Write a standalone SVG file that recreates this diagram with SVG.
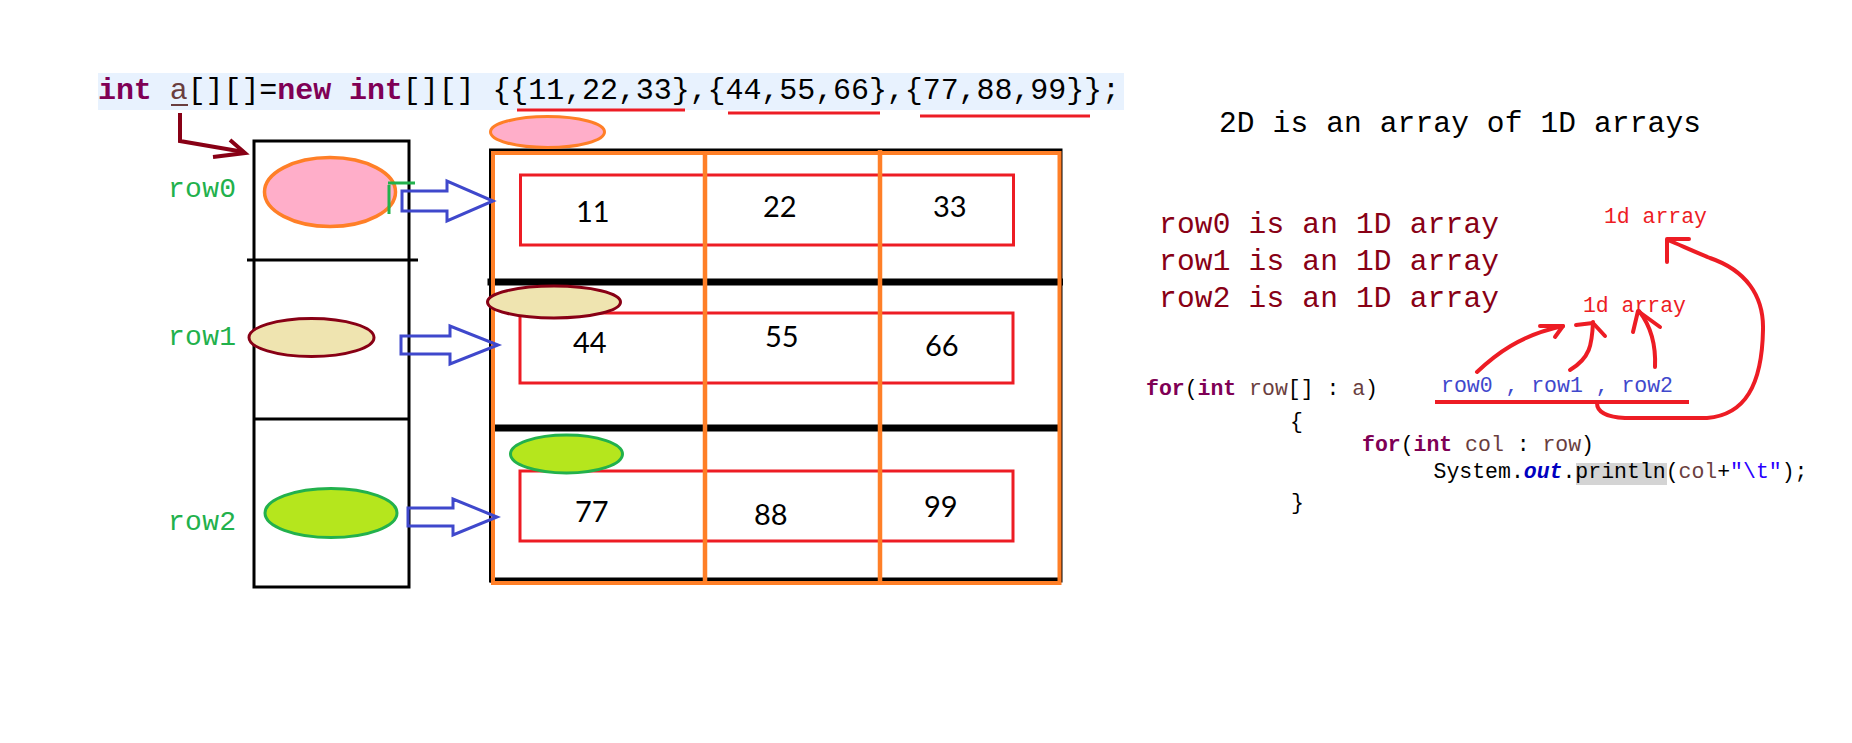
<svg xmlns="http://www.w3.org/2000/svg" width="1852" height="743" viewBox="0 0 1852 743">
<style>
.mono{font-family:"Liberation Mono","DejaVu Sans Mono",monospace;}
.kw{fill:#7F0055;font-weight:bold;}
.var{fill:#6A3E3E;}
.num{font-family:Lato,"Liberation Sans",sans-serif;font-size:29px;fill:#000;}
.rowlbl{fill:#22B14C;font-size:28px;}
.blk{fill:none;stroke:#000;stroke-width:3;}
.redrect{fill:none;stroke:#ED1C24;stroke-width:3;}
.barrow{fill:none;stroke:#3F48CC;stroke-width:3;stroke-linejoin:miter;}
.pen{fill:none;stroke:#ED1C24;stroke-width:4;stroke-linecap:round;stroke-linejoin:round;}
.orange{stroke:#FF7F27;}
</style>
<rect width="1852" height="743" fill="#fff"/>

<g id="code-declaration">
<rect x="98" y="73" width="1026" height="37" fill="#E8F2FE"/>
<text class="mono" x="98" y="99" font-size="30" textLength="1022" lengthAdjust="spacing" fill="#000"><tspan class="kw">int</tspan> <tspan class="var">a</tspan>[][]=<tspan class="kw">new</tspan> <tspan class="kw">int</tspan>[][] {{11,22,33},{44,55,66},{77,88,99}};</text>
<line x1="171" y1="105" x2="188" y2="105" stroke="#6A3E3E" stroke-width="2"/>
<line x1="517" y1="110" x2="685" y2="110" stroke="#ED1C24" stroke-width="3"/>
<line x1="728" y1="113" x2="880" y2="113" stroke="#ED1C24" stroke-width="3"/>
<line x1="920" y1="116" x2="1090" y2="116" stroke="#ED1C24" stroke-width="3"/>
</g>

<g id="row-reference-array">
<rect class="blk" x="254" y="141" width="155" height="446"/>
<line x1="247" y1="260" x2="418" y2="260" stroke="#000" stroke-width="3"/>
<line x1="254" y1="419" x2="409" y2="419" stroke="#000" stroke-width="3"/>
<text class="mono rowlbl" x="168" y="197" textLength="68" lengthAdjust="spacing">row0</text>
<text class="mono rowlbl" x="168" y="345" textLength="68" lengthAdjust="spacing">row1</text>
<text class="mono rowlbl" x="168" y="530" textLength="68" lengthAdjust="spacing">row2</text>
<ellipse cx="330" cy="192" rx="65.5" ry="34.5" fill="#FFAEC9" stroke="#FF7F27" stroke-width="3.5"/>
<ellipse cx="311.5" cy="337.5" rx="62.5" ry="19" fill="#EFE4B0" stroke="#880015" stroke-width="3"/>
<ellipse cx="331" cy="513" rx="66" ry="24.5" fill="#B5E61D" stroke="#22B14C" stroke-width="3"/>
<path d="M388,183 H415 M389,185 V214" fill="none" stroke="#22B14C" stroke-width="3"/>
</g>

<g id="row-arrays-grid">
<rect class="blk" x="490.5" y="150" width="570.5" height="431"/>
<line x1="490" y1="580" x2="1061" y2="580" stroke="#000" stroke-width="5"/>
<rect x="520.5" y="175" width="493" height="70" class="redrect"/>
<rect x="520" y="313" width="493" height="70" class="redrect"/>
<rect x="520" y="471" width="493" height="70" class="redrect"/>
<line x1="487.5" y1="282" x2="1063" y2="282" stroke="#000" stroke-width="7"/>
<line x1="493" y1="428" x2="1058" y2="428" stroke="#000" stroke-width="7"/>
<rect x="493" y="153" width="566.5" height="430" fill="none" stroke="#FF7F27" stroke-width="4"/>
<line x1="705" y1="153" x2="705" y2="583" stroke="#FF7F27" stroke-width="4.5"/>
<line x1="880" y1="150" x2="880" y2="583" stroke="#FF7F27" stroke-width="4.5"/>
<text class="num" x="576" y="222">11</text>
<text class="num" x="763" y="217">22</text>
<text class="num" x="933" y="217">33</text>
<text class="num" x="573" y="353">44</text>
<text class="num" x="765" y="347">55</text>
<text class="num" x="925" y="356">66</text>
<text class="num" x="575" y="522">77</text>
<text class="num" x="754" y="525">88</text>
<text class="num" x="924" y="517">99</text>
<ellipse cx="547.5" cy="132" rx="57" ry="15.5" fill="#FFAEC9" stroke="#FF7F27" stroke-width="3"/>
<ellipse cx="554" cy="302" rx="66.5" ry="16" fill="#EFE4B0" stroke="#880015" stroke-width="3"/>
<ellipse cx="566.5" cy="454" rx="56" ry="19" fill="#B5E61D" stroke="#22B14C" stroke-width="3"/>
</g>

<g id="explanation">
<text class="mono" x="1219" y="132" font-size="29.5" textLength="482" lengthAdjust="spacing" fill="#000">2D is an array of 1D arrays</text>
<text class="mono" x="1159" y="233" font-size="29.5" textLength="340" lengthAdjust="spacing" fill="#880015">row0 is an 1D array</text>
<text class="mono" x="1159" y="270" font-size="29.5" textLength="340" lengthAdjust="spacing" fill="#880015">row1 is an 1D array</text>
<text class="mono" x="1159" y="307" font-size="29.5" textLength="340" lengthAdjust="spacing" fill="#880015">row2 is an 1D array</text>
</g>

<g id="label-1d-array-top">
<text class="mono" x="1604" y="223" font-size="21.5" textLength="103" lengthAdjust="spacing" fill="#ED1C24">1d array</text>
</g>
<g id="label-1d-array-mid">
<text class="mono" x="1583" y="312" font-size="21.5" textLength="103" lengthAdjust="spacing" fill="#ED1C24">1d array</text>
</g>

<g id="loop-code">
<rect x="1576" y="463" width="91" height="22" fill="#D4D4D4"/>
<text class="mono" x="1146" y="395" font-size="21.5" textLength="232" lengthAdjust="spacing" fill="#000"><tspan class="kw">for</tspan>(<tspan class="kw">int</tspan> <tspan class="var">row</tspan>[] : <tspan class="var">a</tspan>)</text>
<text class="mono" x="1441" y="392" font-size="21.5" textLength="232" lengthAdjust="spacing" fill="#3F48CC">row0 , row1 , row2</text>
<line x1="1435" y1="402" x2="1689" y2="402" stroke="#ED1C24" stroke-width="4"/>
<text class="mono" x="1290" y="428" font-size="21.5" fill="#000">{</text>
<text class="mono" x="1362" y="451" font-size="21.5" textLength="232" lengthAdjust="spacing" fill="#000"><tspan class="kw">for</tspan>(<tspan class="kw">int</tspan> <tspan class="var">col</tspan> : <tspan class="var">row</tspan>)</text>
<text class="mono" x="1433.5" y="478" font-size="21.5" textLength="374" lengthAdjust="spacing" fill="#000">System.<tspan fill="#0000C0" font-weight="bold" font-style="italic">out</tspan>.println(<tspan class="var">col</tspan>+<tspan fill="#2A00FF">"\t"</tspan>);</text>
<text class="mono" x="1291" y="509" font-size="21.5" fill="#000">}</text>
</g>

<g id="connectors">
<path d="M180,113 V141 L244,152" fill="none" stroke="#880015" stroke-width="4"/>
<path d="M230,140 L245,153 L213,157" fill="none" stroke="#880015" stroke-width="4"/>
<polygon class="barrow" points="402,191 447,191 447,181 493,201 447,221 447,211 402,211"/>
<polygon class="barrow" points="401,336 450,336 450,326 498,345 450,364 450,354 401,354"/>
<polygon class="barrow" points="408,508 453,508 453,499 497,517 453,535 453,526 408,526"/>
<path class="pen" d="M1597,403 C1597,412 1605,417 1625,418 L1707,418 C1745,415 1762,385 1763,330 C1764,295 1745,270 1710,258 C1695,252 1680,245 1668,240"/>
<path class="pen" d="M1667,262 L1667,239 L1689,239"/>
<path class="pen" d="M1477,372 C1495,355 1520,335 1563,326"/>
<path class="pen" d="M1540,326 L1563,326 L1555,337"/>
<path class="pen" d="M1570,370 C1590,358 1592,345 1593,322"/>
<path class="pen" d="M1576,325 L1593,323 L1605,336"/>
<path class="pen" d="M1655,367 C1656,345 1650,325 1639,311"/>
<path class="pen" d="M1633,332 L1638,311 L1660,327"/>
</g>
</svg>
